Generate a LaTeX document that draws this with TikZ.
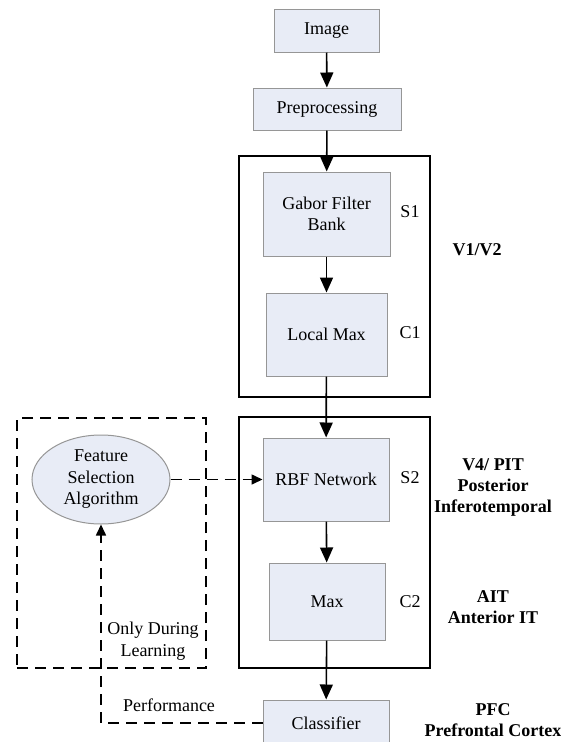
\documentclass[tikz,border=0pt]{standalone}
\usepackage{fontspec}
\setmainfont{Liberation Serif}
\usetikzlibrary{arrows.meta,shapes.geometric}

\definecolor{boxfill}{RGB}{232,236,246}
\definecolor{boxline}{RGB}{150,150,150}

\tikzset{block/.style = {rectangle, draw=boxline, fill=boxfill, line width=1pt,
                         align=center, inner sep=2pt},
         stage/.style = {rectangle, draw=black, line width=1.6pt, inner sep=0pt},
         layer/.style = {inner sep=0pt},
         area/.style  = {font=\fontsize{18}{21}\selectfont\bfseries, align=center, inner sep=0pt},
         flow/.style  = {-{Triangle[length=15pt,width=13pt]}, line width=1.6pt},
         learn/.style = {dashed, dash pattern=on 11pt off 7pt, line width=1.6pt}
        }

\begin{document}
\begin{tikzpicture}[x=1pt, y=-1pt, font=\fontsize{18}{21.5}\selectfont]
  \useasboundingbox (0,0) rectangle (560,742);

  % visual cortex stages
  \node[stage, minimum width=191pt, minimum height=241pt] (v1) at (334.5,276.5) {};
  \node[stage, minimum width=191pt, minimum height=251pt] (v4) at (334.5,542.5) {};
  \node[learn, draw, minimum width=189pt, minimum height=250pt] (sel) at (111.5,543) {};

  % main pipeline
  \node[block, minimum width=105pt, minimum height=43pt] (img) at (326.5,30.5) {Image};
  \node[block, minimum width=148pt, minimum height=42pt] (pre) at (327,109) {Preprocessing};
  \node[block, minimum width=127pt, minimum height=84pt] (gabor) at (326.5,214) {Gabor Filter\\Bank};
  \node[block, minimum width=121pt, minimum height=83pt] (lmax) at (326.5,334.5) {Local Max};
  \node[block, minimum width=126pt, minimum height=83pt] (rbf) at (326,479.5) {RBF Network};
  \node[block, minimum width=116pt, minimum height=77pt] (mx) at (327,601.5) {Max};
  \node[block, minimum width=126pt, minimum height=46pt] (cls) at (326,723) {Classifier};

  % feature selection
  \node[block, ellipse, minimum width=138pt, minimum height=89pt, inner sep=0pt] (fsa) at (101,479.5)
       {Feature\\Selection\\Algorithm};

  % layer names
  \node[layer] (s1) at (410,212) {S1};
  \node[layer] (c1) at (410,333) {C1};
  \node[layer] (s2) at (410,478) {S2};
  \node[layer] (c2) at (410,602) {C2};

  % brain areas
  \node[area] (a1) at (477,250) {V1/V2};
  \node[area] (a2) at (493,487) {V4/ PIT\\Posterior\\Inferotemporal};
  \node[area] (a3) at (493,607) {AIT\\Anterior IT};
  \node[area] (a4) at (493,720) {PFC\\Prefrontal Cortex};

  % arrows
  \draw[flow] (img) -- (pre);
  \draw[flow] (pre) -- (gabor);
  \draw[flow] (gabor) -- (lmax);
  \draw[flow] (lmax) -- (rbf);
  \draw[flow] (mx) -- (cls);
  \draw[flow] (rbf) -- (mx);

  % learning loop
  \draw[learn, -{Triangle[length=11pt,width=10pt]}] (fsa.east) -- (rbf.west);
  \draw[learn, -{Triangle[length=11pt,width=10pt]}] (cls.west) -| (fsa.south);
  \node[inner sep=1pt, fill=white, align=center] (only) at (153,641) {Only During\\Learning};
  \node[inner sep=0pt] (perf) at (169,705) {Performance};
\end{tikzpicture}
\end{document}
